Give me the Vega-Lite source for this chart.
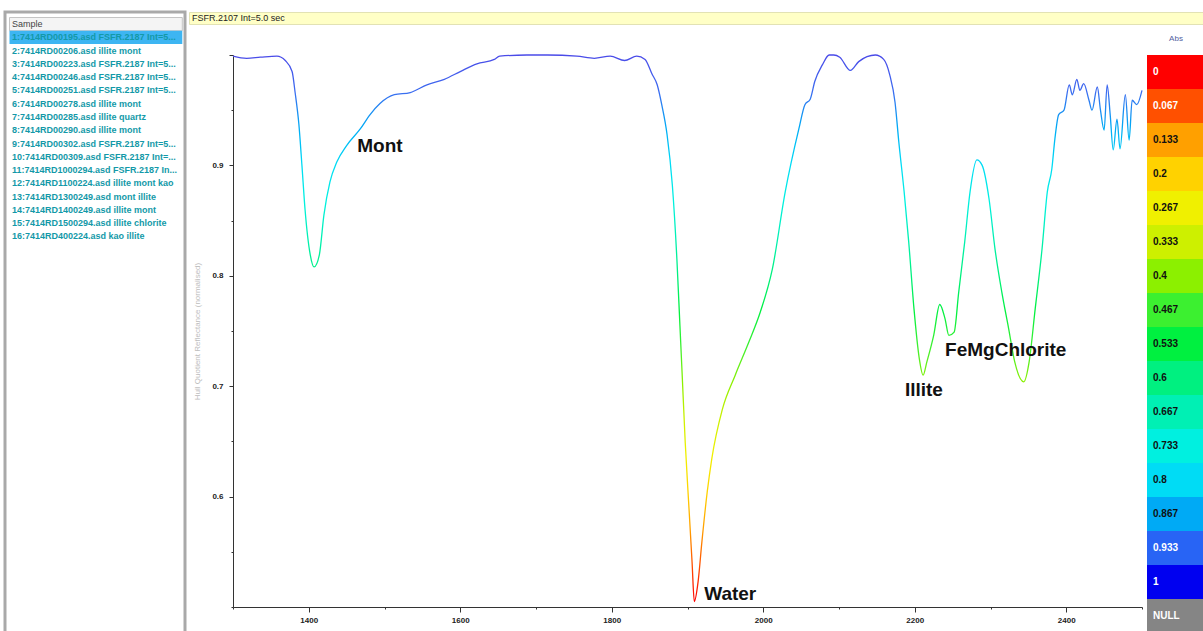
{
  "$schema": "https://vega.github.io/schema/vega-lite/v6.json",
  "padding": {"left": 3, "top": 10, "right": 0, "bottom": 0},
  "background": "#ffffff",
  "bounds": "flush",
  "spacing": 4,
  "config": {"view": {"stroke": null}, "font": "Liberation Sans"},
  "datasets": {
    "samples": [
      {"row": 0, "label": "Sample"},
      {"row": 1, "label": "1:7414RD00195.asd  FSFR.2187 Int=5..."},
      {"row": 2, "label": "2:7414RD00206.asd  illite mont"},
      {"row": 3, "label": "3:7414RD00223.asd  FSFR.2187 Int=5..."},
      {"row": 4, "label": "4:7414RD00246.asd  FSFR.2187 Int=5..."},
      {"row": 5, "label": "5:7414RD00251.asd  FSFR.2187 Int=5..."},
      {"row": 6, "label": "6:7414RD00278.asd  illite mont"},
      {"row": 7, "label": "7:7414RD00285.asd  illite quartz"},
      {"row": 8, "label": "8:7414RD00290.asd  illite mont"},
      {"row": 9, "label": "9:7414RD00302.asd  FSFR.2187 Int=5..."},
      {"row": 10, "label": "10:7414RD00309.asd  FSFR.2187 Int=..."},
      {"row": 11, "label": "11:7414RD1000294.asd  FSFR.2187 In..."},
      {"row": 12, "label": "12:7414RD1100224.asd  illite mont kao"},
      {"row": 13, "label": "13:7414RD1300249.asd  mont illite"},
      {"row": 14, "label": "14:7414RD1400249.asd  illite mont"},
      {"row": 15, "label": "15:7414RD1500294.asd  illite chlorite"},
      {"row": 16, "label": "16:7414RD400224.asd  kao illite"}
    ],
    "spectrum": [
      {"wl":1300,"val":0.999},{"wl":1318,"val":0.997},{"wl":1336,"val":0.998},{"wl":1358,"val":0.999},{"wl":1369,"val":0.995},{"wl":1378,"val":0.985},{"wl":1382,"val":0.966},{"wl":1387,"val":0.937},{"wl":1391,"val":0.900},{"wl":1395,"val":0.861},{"wl":1402,"val":0.819},{"wl":1407,"val":0.808},{"wl":1414,"val":0.819},{"wl":1420,"val":0.855},{"wl":1428,"val":0.885},{"wl":1437,"val":0.903},{"wl":1450,"val":0.918},{"wl":1468,"val":0.933},{"wl":1481,"val":0.946},{"wl":1494,"val":0.956},{"wl":1513,"val":0.964},{"wl":1534,"val":0.966},{"wl":1556,"val":0.973},{"wl":1579,"val":0.978},{"wl":1600,"val":0.985},{"wl":1622,"val":0.992},{"wl":1645,"val":0.996},{"wl":1652,"val":0.999},{"wl":1688,"val":1.000},{"wl":1715,"val":1.000},{"wl":1754,"val":0.999},{"wl":1777,"val":0.997},{"wl":1798,"val":0.999},{"wl":1817,"val":0.995},{"wl":1833,"val":0.999},{"wl":1844,"val":0.996},{"wl":1853,"val":0.983},{"wl":1860,"val":0.973},{"wl":1866,"val":0.955},{"wl":1873,"val":0.928},{"wl":1880,"val":0.882},{"wl":1886,"val":0.815},{"wl":1890,"val":0.755},{"wl":1893,"val":0.710},{"wl":1897,"val":0.649},{"wl":1902,"val":0.589},{"wl":1906,"val":0.541},{"wl":1909,"val":0.505},{"wl":1914,"val":0.523},{"wl":1919,"val":0.559},{"wl":1926,"val":0.604},{"wl":1932,"val":0.634},{"wl":1946,"val":0.679},{"wl":1963,"val":0.710},{"wl":1981,"val":0.740},{"wl":1996,"val":0.767},{"wl":2012,"val":0.806},{"wl":2029,"val":0.876},{"wl":2047,"val":0.933},{"wl":2055,"val":0.955},{"wl":2062,"val":0.960},{"wl":2068,"val":0.976},{"wl":2078,"val":0.991},{"wl":2087,"val":1.000},{"wl":2093,"val":1.000},{"wl":2101,"val":0.998},{"wl":2115,"val":0.986},{"wl":2126,"val":0.994},{"wl":2148,"val":1.000},{"wl":2159,"val":0.996},{"wl":2167,"val":0.982},{"wl":2174,"val":0.957},{"wl":2179,"val":0.921},{"wl":2186,"val":0.876},{"wl":2192,"val":0.831},{"wl":2199,"val":0.770},{"wl":2206,"val":0.725},{"wl":2211,"val":0.710},{"wl":2216,"val":0.722},{"wl":2225,"val":0.746},{"wl":2233,"val":0.774},{"wl":2240,"val":0.761},{"wl":2245,"val":0.746},{"wl":2252,"val":0.749},{"wl":2258,"val":0.785},{"wl":2266,"val":0.831},{"wl":2273,"val":0.876},{"wl":2282,"val":0.905},{"wl":2289,"val":0.900},{"wl":2298,"val":0.870},{"wl":2306,"val":0.824},{"wl":2315,"val":0.785},{"wl":2324,"val":0.752},{"wl":2332,"val":0.722},{"wl":2344,"val":0.704},{"wl":2351,"val":0.722},{"wl":2359,"val":0.770},{"wl":2368,"val":0.824},{"wl":2375,"val":0.876},{"wl":2381,"val":0.897},{"wl":2385,"val":0.924},{"wl":2390,"val":0.946},{"wl":2397,"val":0.950},{"wl":2404,"val":0.973},{"wl":2408,"val":0.964},{"wl":2414,"val":0.978},{"wl":2418,"val":0.968},{"wl":2423,"val":0.974},{"wl":2430,"val":0.959},{"wl":2434,"val":0.950},{"wl":2441,"val":0.971},{"wl":2445,"val":0.951},{"wl":2450,"val":0.932},{"wl":2454,"val":0.973},{"wl":2458,"val":0.946},{"wl":2462,"val":0.914},{"wl":2467,"val":0.942},{"wl":2471,"val":0.915},{"wl":2478,"val":0.964},{"wl":2483,"val":0.923},{"wl":2487,"val":0.959},{"wl":2493,"val":0.955},{"wl":2500,"val":0.968}
    ],
    "notes": [
      {"label": "Mont", "wl": 1464, "val": 0.918},
      {"label": "Water", "wl": 1922, "val": 0.512},
      {"label": "Illite", "wl": 2187, "val": 0.697},
      {"label": "FeMgChlorite", "wl": 2240, "val": 0.733}
    ],
    "legend": [
      {"label": "0"},{"label": "0.067"},{"label": "0.133"},{"label": "0.2"},{"label": "0.267"},{"label": "0.333"},{"label": "0.4"},{"label": "0.467"},{"label": "0.533"},{"label": "0.6"},{"label": "0.667"},{"label": "0.733"},{"label": "0.8"},{"label": "0.867"},{"label": "0.933"},{"label": "1"},{"label": "NULL"}
    ]
  },
  "hconcat": [
    {
      "width": 180,
      "height": 621,
      "view": {"stroke": "#a9a9a9", "strokeWidth": 3, "fill": "#ffffff"},
      "data": {"name": "samples"},
      "layer": [
        {
          "transform": [{"filter": "datum.row === 0"}],
          "mark": {"type": "rect", "fill": "#f4f4f4", "stroke": "#c4c4c4", "strokeWidth": 1},
          "encoding": {
            "y": {"field": "row", "type": "ordinal", "axis": null, "scale": {"type": "band", "domain": [0,1,2,3,4,5,6,7,8,9,10,11,12,13,14,15,16], "range": [5.5, 231.1], "paddingInner": 0, "paddingOuter": 0}},
            "x": {"datum": 0.025, "type": "quantitative", "scale": {"domain": [0, 1]}, "axis": null},
            "x2": {"datum": 0.985}
          }
        },
        {
          "transform": [{"filter": "datum.row === 1"}],
          "mark": {"type": "rect", "fill": "#3db5f2"},
          "encoding": {
            "y": {"field": "row", "type": "ordinal", "axis": null},
            "x": {"datum": 0.025, "type": "quantitative", "axis": null},
            "x2": {"datum": 0.985}
          }
        },
        {
          "transform": [{"filter": "datum.row === 0"}],
          "mark": {"type": "text", "align": "left", "baseline": "middle", "fontSize": 9, "dx": 7, "color": "#444444"},
          "encoding": {
            "y": {"field": "row", "type": "ordinal", "axis": null},
            "x": {"datum": 0, "type": "quantitative", "axis": null},
            "text": {"field": "label"}
          }
        },
        {
          "transform": [{"filter": "datum.row > 0"}],
          "mark": {"type": "text", "align": "left", "baseline": "middle", "fontSize": 9, "fontWeight": "bold", "dx": 7, "color": "#1399a8"},
          "encoding": {
            "y": {"field": "row", "type": "ordinal", "axis": null},
            "x": {"datum": 0, "type": "quantitative", "axis": null},
            "text": {"field": "label"}
          }
        }
      ]
    },
    {
      "bounds": "flush",
      "spacing": 31,
      "vconcat": [
        {
          "width": 1016,
          "height": 12,
          "view": {"fill": "#ffffc6", "stroke": "#e2e2b4"},
          "data": {"values": [{"title": "FSFR.2107 Int=5.0 sec"}]},
          "mark": {"type": "text", "align": "left", "baseline": "middle", "fontSize": 9, "color": "#222222", "dx": 3},
          "encoding": {
            "x": {"datum": 0, "type": "quantitative", "scale": {"domain": [0, 1]}, "axis": null},
            "y": {"datum": 0.5, "type": "quantitative", "scale": {"domain": [0, 1]}, "axis": null},
            "text": {"field": "title"}
          }
        },
        {
          "bounds": "flush",
          "spacing": 5,
          "hconcat": [
            {
              "width": 39,
              "height": 10,
              "data": {"values": [{}]},
              "mark": {"type": "text"},
              "encoding": {"text": {"value": ""}}
            },
            {
              "width": 909,
              "height": 552,
              "layer": [
                {
                  "data": {"name": "spectrum"},
                  "mark": {
                    "type": "line",
                    "strokeWidth": 1.3,
                    "interpolate": "monotone",
                    "stroke": {
                      "gradient": "linear",
                      "x1": 0, "y1": 1, "x2": 0, "y2": 0,
                      "stops": [
                        {"offset": 0, "color": "#ff0000"},
                        {"offset": 0.067, "color": "#ff5000"},
                        {"offset": 0.133, "color": "#ffa000"},
                        {"offset": 0.2, "color": "#ffd200"},
                        {"offset": 0.267, "color": "#f0f000"},
                        {"offset": 0.333, "color": "#cdf000"},
                        {"offset": 0.4, "color": "#8cf000"},
                        {"offset": 0.467, "color": "#3cf030"},
                        {"offset": 0.533, "color": "#00f040"},
                        {"offset": 0.6, "color": "#00f080"},
                        {"offset": 0.667, "color": "#00f0b4"},
                        {"offset": 0.733, "color": "#00f0e0"},
                        {"offset": 0.8, "color": "#00dcf5"},
                        {"offset": 0.867, "color": "#00aaf5"},
                        {"offset": 0.933, "color": "#3c6cf0"},
                        {"offset": 1, "color": "#4a4ae8"}
                      ]
                    }
                  },
                  "encoding": {
                    "x": {
                      "field": "wl", "type": "quantitative",
                      "scale": {"domain": [1300, 2500], "nice": false, "zero": false},
                      "axis": {
                        "title": null,
                        "grid": false,
                        "values": [1300,1350,1400,1450,1500,1550,1600,1650,1700,1750,1800,1850,1900,1950,2000,2050,2100,2150,2200,2250,2300,2350,2400,2450,2500],
                        "labelExpr": "(datum.value - 1400) % 200 === 0 ? format(datum.value, 'd') : ''",
                        "tickSize": {"condition": {"test": "(datum.value - 1400) % 200 === 0", "value": 5}, "value": 2},
                        "domainColor": "#333333",
                        "tickColor": "#333333",
                        "labelFontSize": 8,
                        "labelFontWeight": "bold",
                        "labelColor": "#222222",
                        "labelPadding": 4,
                        "labelOverlap": false,
                        "labelFlush": false
                      }
                    },
                    "y": {
                      "field": "val", "type": "quantitative",
                      "scale": {"domain": [0.5, 1.0], "nice": false, "zero": false},
                      "axis": {
                        "title": "Hull Quotient Reflectance (normalised)",
                        "titleColor": "#bdbdbd",
                        "titleFontSize": 8,
                        "titleFontWeight": "normal",
                        "titleX": -32,
                        "grid": false,
                        "values": [0.5,0.55,0.6,0.65,0.7,0.75,0.8,0.85,0.9,0.95,1.0],
                        "labelExpr": "indexof([0.6,0.7,0.8,0.9], datum.value) >= 0 ? format(datum.value, '.1f') : ''",
                        "tickSize": {"condition": {"test": "indexof([0.6,0.7,0.8,0.9,1.0], datum.value) >= 0", "value": 4}, "value": 2},
                        "domainColor": "#333333",
                        "tickColor": "#333333",
                        "labelFontSize": 8,
                        "labelFontWeight": "bold",
                        "labelColor": "#222222",
                        "labelPadding": 6,
                        "labelOverlap": false,
                        "labelFlush": false
                      }
                    }
                  }
                },
                {
                  "data": {"name": "notes"},
                  "mark": {"type": "text", "align": "left", "baseline": "middle", "fontSize": 19, "fontWeight": "bold", "color": "#111111"},
                  "encoding": {
                    "x": {"field": "wl", "type": "quantitative"},
                    "y": {"field": "val", "type": "quantitative"},
                    "text": {"field": "label"}
                  }
                }
              ]
            },
            {
              "width": 58,
              "height": 578,
              "data": {"name": "legend"},
              "title": {"text": "Abs", "fontSize": 8, "color": "#5060a0", "fontWeight": "normal", "offset": 12, "anchor": "middle", "frame": "group"},
              "layer": [
                {
                  "mark": {"type": "rect"},
                  "encoding": {
                    "y": {"field": "label", "type": "ordinal", "sort": null, "axis": null, "scale": {"type": "band", "paddingInner": 0, "paddingOuter": 0}},
                    "x": {"datum": 0, "type": "quantitative", "scale": {"domain": [0, 1]}, "axis": null},
                    "x2": {"datum": 1},
                    "color": {
                      "field": "label", "type": "nominal", "legend": null,
                      "scale": {
                        "domain": ["0","0.067","0.133","0.2","0.267","0.333","0.4","0.467","0.533","0.6","0.667","0.733","0.8","0.867","0.933","1","NULL"],
                        "range": ["#ff0000","#ff5000","#ffa000","#ffd200","#f0f000","#cdf000","#8cf000","#3cf030","#00f040","#00f080","#00f0b4","#00f0e0","#00dcf5","#00aaf5","#2864f5","#0000f0","#858585"]
                      }
                    }
                  }
                },
                {
                  "mark": {"type": "text", "align": "left", "baseline": "middle", "fontSize": 10, "fontWeight": "bold", "dx": 6},
                  "encoding": {
                    "y": {"field": "label", "type": "ordinal", "sort": null, "axis": null},
                    "x": {"datum": 0, "type": "quantitative", "axis": null},
                    "text": {"field": "label"},
                    "color": {"condition": {"test": "indexof(['0','0.067','0.933','1','NULL'], datum.label) >= 0", "value": "#ffffff"}, "value": "#111111"}
                  }
                }
              ]
            }
          ]
        }
      ]
    }
  ]
}
